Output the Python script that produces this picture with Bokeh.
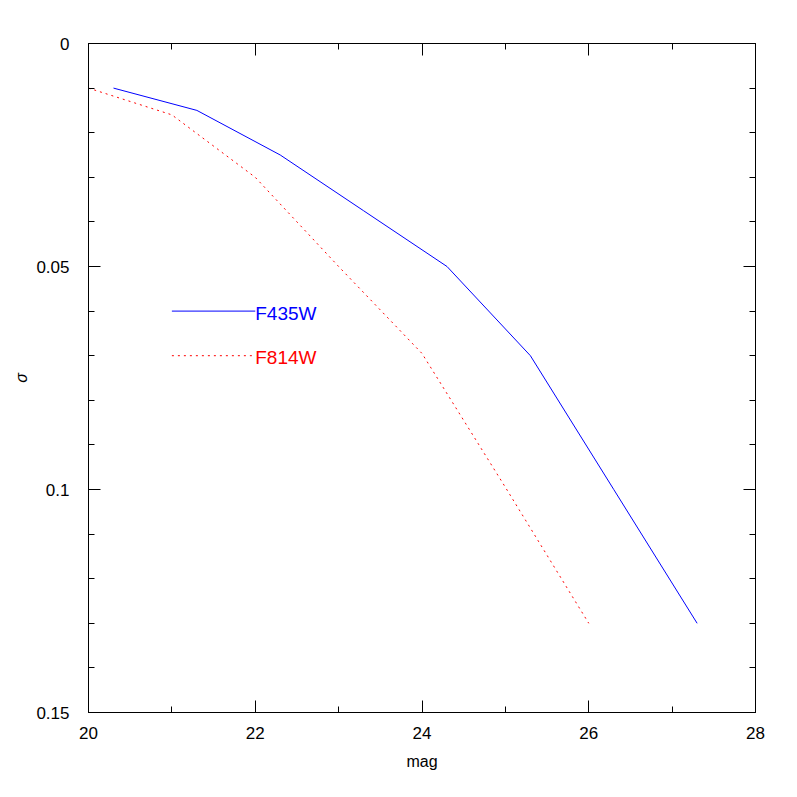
from bokeh.plotting import figure
from bokeh.models import Range1d, LinearAxis, FixedTicker
from bokeh.core.properties import value
from bokeh.embed import file_html
from bokeh.resources import INLINE

# Data
f435w_mag = [20.3, 21.3, 22.3, 23.3, 24.3, 25.3, 26.3, 27.3]
f435w_sigma = [0.010, 0.015, 0.025, 0.0375, 0.050, 0.070, 0.100, 0.130]
f814w_mag = [20.0, 21.0, 22.0, 23.0, 24.0, 25.0, 26.0]
f814w_sigma = [0.010, 0.016, 0.030, 0.050, 0.0695, 0.0995, 0.130]

x_major = [20, 22, 24, 26, 28]
x_minor = [21, 23, 25, 27]
y_major = [0, 0.05, 0.1, 0.15]
y_minor = [0.01, 0.02, 0.03, 0.04, 0.06, 0.07, 0.08, 0.09, 0.11, 0.12, 0.13, 0.14]
y_labels = {0: "0", 0.05: "0.05", 0.1: "0.1", 0.15: "0.15"}

legend_names = ["F435W", "F814W"]
legend_y = [0.06, 0.07]
legend_x0, legend_x1 = 21, 22

FONT = "Liberation Sans"

p = figure(width=785, height=782, output_backend="svg", toolbar_location=None,
           x_range=Range1d(20, 28), y_range=Range1d(0.15, 0),
           x_axis_location=None, y_axis_location=None,
           min_border_left=88, min_border_right=30, min_border_top=43, min_border_bottom=70)
p.grid.visible = False
p.outline_line_color = "black"
p.background_fill_color = "white"
p.border_fill_color = "white"

xt = FixedTicker(ticks=x_major, minor_ticks=x_minor)
yt = FixedTicker(ticks=y_major, minor_ticks=y_minor)

def style(ax, show_labels):
    ax.major_tick_in = 12
    ax.major_tick_out = 0
    ax.minor_tick_in = 6
    ax.minor_tick_out = 0
    ax.axis_line_color = "black"
    ax.major_tick_line_color = "black"
    ax.minor_tick_line_color = "black"
    ax.major_label_text_font = FONT
    ax.major_label_text_font_size = "17px"
    ax.major_label_text_color = "black"
    ax.axis_label_text_font = FONT
    ax.axis_label_text_font_size = "16px"
    ax.axis_label_text_color = "black"
    if not show_labels:
        ax.major_label_text_alpha = 0
        ax.major_label_text_font_size = "1px"
        ax.major_label_standoff = 0

bottom = LinearAxis(ticker=xt, axis_label="mag")
style(bottom, True)
bottom.major_label_standoff = 14
bottom.axis_label_standoff = 11
bottom.axis_label_text_font_style = "normal"
top = LinearAxis(ticker=xt)
style(top, False)
left = LinearAxis(ticker=yt, axis_label="σ")
style(left, True)
left.major_label_overrides = y_labels
left.major_label_standoff = 19
left.axis_label_standoff = 3
left.axis_label_text_font_style = "italic"
right = LinearAxis(ticker=yt)
style(right, False)

p.add_layout(bottom, "below")
p.add_layout(top, "above")
p.add_layout(left, "left")
p.add_layout(right, "right")

p.line(f435w_mag, f435w_sigma, line_color="blue", line_width=1)
p.line(f814w_mag, f814w_sigma, line_color="red", line_width=1, line_dash="2 4")

# legend drawn inside the plot
p.line([legend_x0, legend_x1], [legend_y[0], legend_y[0]], line_color="blue", line_width=1)
p.line([legend_x0, legend_x1], [legend_y[1], legend_y[1]], line_color="red", line_width=1, line_dash="2 4")
p.text(x=[legend_x1], y=[legend_y[0]], text=[legend_names[0]], text_color="blue",
       text_font=value(FONT), text_font_size="19px", text_baseline="middle", y_offset=2)
p.text(x=[legend_x1], y=[legend_y[1]], text=[legend_names[1]], text_color="red",
       text_font=value(FONT), text_font_size="19px", text_baseline="middle", y_offset=2)

open("out.html", "w").write(file_html(p, INLINE))
